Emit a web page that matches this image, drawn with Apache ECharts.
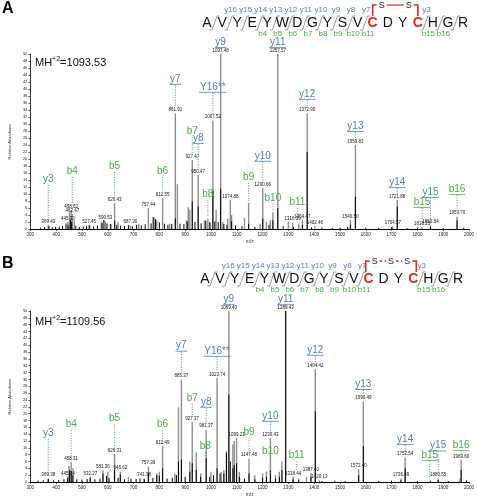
<!DOCTYPE html>
<html><head><meta charset="utf-8">
<script src="https://cdn.jsdelivr.net/npm/echarts@6/dist/echarts.min.js"></script>
<style>html,body{margin:0;padding:0;background:#fff}#c{width:477px;height:498px}</style>
</head><body><div id="c"></div>
<script>
// ---------- DATA ----------
const xMin = 300, xMax = 2000, xStep = 100;
const yMin = 0, yMax = 50, yStep = 2;
const panelLetters = ['A', 'B'];
const precursorA = '1093.53';
const precursorB = '1109.56';
const residues = ['A','V','Y','E','Y','W','D','G','Y','S','V','C','D','Y','C','H','G','R'];
const linkA = ['S', 'S'];
const linkB = ['S', 'S', 'S'];

// Panel A: main (grey) peaks [m/z, relative abundance]
const greyA = [[369.4,1.2],[445.3,2.0],[452,4.8],[458.3,5.3],[462.5,4.2],[470,2.5],[527.5,1.2],[575,1.8],[590.5,2.2],[610,1.5],[626.4,7.4],[640,2],[687.3,1.0],[720,1.5],[757.4,6.0],[780,3.2],[790,2.5],[812.6,8.9],[840,1.5],[861.9,33],[870,12.8],[905,2.5],[912,6.2],[918,5.5],[927.5,19.7],[950.5,15.4],[975,2.5],[988,3.0],[995,2],[1007.5,31],[1020,5.5],[1037.5,50],[1046,2],[1065,3],[1074.9,8.3],[1080,4],[1130,3.2],[1146,7.4],[1190,1.5],[1200.7,11.7],[1215,2],[1230,2.5],[1240,4.7],[1259,50],[1300,2],[1316.4,1.8],[1340,1.5],[1354.5,2.6],[1372.9,33],[1402.5,0.8],[1540.5,2.6],[1559.8,24],[1704.6,0.8],[1721.9,8.3],[1818.2,0.5],[1850.8,1],[1953.7,3.5]];
// Panel A: dark (black) peaks
const blackA = [[340,0.4],[355,0.5],[372,0.8],[385,0.5],[398,0.6],[412,0.7],[425,0.9],[438,1.6],[446,1.2],[455,2.6],[460,2.0],[476,0.9],[490,0.6],[505,0.7],[518,0.9],[530,1.0],[545,0.7],[560,1.0],[578,1.8],[585,2.6],[597,1.6],[612,1.4],[627,2.4],[635,1.2],[650,1.0],[665,0.9],[680,1.1],[695,0.8],[712,1.2],[730,1.0],[745,1.3],[768,1.6],[776,3.4],[785,2.8],[800,1.9],[820,1.5],[833,1.2],[848,1.4],[862,3.0],[880,1.5],[895,1.4],[908,2.2],[927.5,7.8],[938,2.0],[950.5,6.4],[962,1.6],[980,2.4],[996,1.8],[1007.5,11],[1015,2.2],[1028,2.0],[1037.5,11.5],[1050,1.4],[1062,1.2],[1080,2.2],[1095,1.0],[1120,0.8],[1146,1.5],[1170,0.6],[1200.7,3.0],[1225,1.2],[1240,2.5],[1259,6],[1280,0.8],[1320,0.6],[1354.5,1.2],[1372.9,22],[1390,0.5],[1430,0.4],[1470,0.3],[1500,0.4],[1530,0.6],[1540.5,1.2],[1559.8,9.2],[1600,0.4],[1650,0.3],[1700,0.5],[1721.9,6.4],[1760,0.3],[1800,0.4],[1850.8,0.6],[1900,0.3],[1953.7,2.5],[1980,0.4]];
// Panel A: peak m/z labels
const valMzA = [369.4,445.3,458.3,462.5,527.5,590.5,626.4,687.3,757.4,812.6,861.9,927.5,950.5,1007.5,1037.5,1074.9,1200.7,1259,1316.4,1354.5,1372.9,1402.5,1540.5,1559.8,1704.6,1721.9,1818.2,1850.8,1953.7];
const valHA  = [1.2,2.0,5.3,4.2,1.2,2.2,7.4,1.0,6.0,8.9,33,19.7,15.4,31,50,8.3,11.7,50,1.8,2.6,33,0.8,2.6,24,0.8,8.3,0.5,1.0,3.5];
const valTxtA = ['369.43','445.33','458.62','462.47','527.45','590.53','626.43','687.30','757.44','812.55','861.91','927.47','950.47','1007.52','1037.48','1074.88','1200.66','1257.57','1316.39','1354.47','1372.90','1402.46','1540.50','1559.83','1704.57','1721.88','1818.23','1850.84','1953.70'];
// Panel A: fragment ion annotations
const ionNameA = ['y3','b4','b5','b6','y7','b7','y8','b8','Y16**','y9','b9','y10','b10','y11','b11','y12','y13','y14','b15','y15','b16'];
const ionMzA   = [369.4,462.5,626.4,812.6,861.9,927.5,950.5,988,1007.5,1037.5,1146,1200.7,1240,1259,1335,1372.9,1559.8,1721.9,1818,1850.8,1953.7];
const ionBaseA = [2.5,6.5,9,10.5,35,21.5,17,3.5,32.5,52,8,13,5,52,3.5,35,26,10,1,2.5,5];
const ionLvlA  = [12.6,14.9,16.3,14.9,41.2,26.3,24.3,8.3,38.9,51.7,13.2,19.2,7.2,51.7,6.0,36.9,27.7,11.7,6.0,8.9,9.7];

// Panel B
const greyB = [[369.4,1.0],[445.1,1.5],[450,4.7],[458.3,5.8],[465,4.0],[532.3,1.5],[581.4,3.4],[600,3],[626.3,8.2],[648.6,3.0],[680,1.5],[741.4,1.0],[757.4,4.5],[790,2.5],[800,3],[812.5,10.5],[860,2.5],[874,21.8],[885.4,30],[918,6],[927.4,17.6],[943,8.6],[960,2.5],[981.4,15.3],[1000,3],[1023.7,30.4],[1040,3],[1050,3.5],[1060,9],[1069.4,50],[1085,11],[1090,12],[1099.2,12.9],[1110,3],[1147.5,6.8],[1170,2],[1200,2.5],[1215,3],[1230.4,12.9],[1250,2],[1265,3],[1275,6],[1289.4,50],[1318.4,1.5],[1340,1],[1370,1.5],[1387.4,2.6],[1404.4,33],[1420.1,0.5],[1572.4,3.7],[1590.5,23.6],[1736.5,1.0],[1752.5,7.2],[1880.6,1.0],[1965,1],[1969.6,6.5]];
const blackB = [[330,0.4],[350,0.5],[369.4,0.8],[390,0.5],[410,0.6],[430,0.8],[445,1.2],[452,3.5],[458.3,3.2],[465,2.0],[480,0.8],[500,0.7],[520,0.9],[532,1.2],[550,0.8],[570,1.0],[581.4,2.4],[595,1.8],[605,1.2],[626.3,3.5],[640,1.2],[648.6,2.2],[665,0.8],[690,1.0],[710,0.9],[725,1.0],[741.4,0.8],[757.4,2.6],[775,1.2],[790,2.0],[800,1.8],[812.5,4.0],[830,1.0],[850,1.2],[866,2.0],[874,6.0],[885.4,6.5],[900,1.5],[918,3.0],[927.4,5.5],[943,3.5],[960,1.5],[981.4,7.0],[995,1.5],[1010,2.0],[1023.7,4.0],[1035,2.5],[1050,2.5],[1060,8.5],[1069.4,25.6],[1075,6],[1085,4],[1090,5],[1099.2,5.5],[1110,1.5],[1130,1.0],[1147.5,2.5],[1170,0.8],[1200,1.2],[1215,1.5],[1230.4,3.5],[1250,1.0],[1265,1.5],[1275,3.5],[1289.4,50],[1318,0.8],[1340,0.5],[1387.4,1.5],[1404.4,20.7],[1430,0.3],[1480,0.4],[1520,0.3],[1572.4,2.0],[1590.5,10.5],[1650,0.3],[1700,0.4],[1736,0.5],[1752.5,4.0],[1800,0.3],[1850,0.4],[1880.6,0.6],[1920,0.3],[1969.6,3.5],[1990,0.5]];
const valMzB = [369.4,445.1,458.3,532.3,581.4,626.3,648.6,741.4,757.4,812.5,885.4,927.4,981.4,1023.7,1069.4,1099.2,1147.5,1230.4,1289.4,1318.4,1387.4,1404.4,1420.1,1572.4,1590.5,1736.5,1752.5,1880.6,1969.6];
const valHB  = [1.0,1.5,5.8,1.5,3.4,8.2,3.0,1.0,4.5,10.5,30,17.6,15.3,30.4,50,12.9,6.8,12.9,50,1.5,2.6,33,0.5,3.7,23.6,1.0,7.2,1.0,6.5];
const valTxtB = ['369.38','445.14','458.31','532.27','581.36','626.31','648.62','741.38','757.39','812.49','885.37','927.37','981.37','1023.74','1069.40','1099.21','1147.48','1230.43','1289.43','1318.44','1387.40','1404.42','1420.13','1572.40','1590.49','1736.49','1752.54','1880.55','1969.60'];
const ionNameB = ['y3','b4','b5','b6','y7','b7','y8','b8','Y16**','y9','b9','y10','b10','y11','b11','y12','y13','y14','b15','y15','b16'];
const ionMzB   = [369.4,458.3,626.3,812.5,885.4,927.4,981.4,978,1023.7,1069.4,1147.5,1230.4,1230.4,1289.4,1332,1404.4,1590.5,1752.5,1848,1880.6,1969.6];
const ionBaseB = [2.0,7.5,10,12.3,32,19.5,17,7.5,32.5,52,8.5,14.5,2,52,3,35,25.5,9,0.8,2.2,8];
const ionLvlB  = [12.5,15.1,16.8,15.1,38.1,22.8,21.7,8.6,36.6,51.7,12.9,17.6,7.2,51.7,6.0,36.9,26.9,10.8,6.1,8.9,9.1];

// ---------- STYLE ----------
const BLUE = '#4f7fc0', GREEN = '#46b046', RED = '#e02a1e', GREY = '#8e8e8e';
const FONT = '"Liberation Sans", Arial, sans-serif';
const grids = [{left:17, top:54, width:452, height:175}, {left:17, top:311, width:452, height:176}];

function stickRender(color, w){
  return function(params, api){
    const p0 = api.coord([api.value(0), 0]);
    const p1 = api.coord([api.value(0), api.value(1)]);
    return {type:'line', shape:{x1:p0[0], y1:p0[1], x2:p1[0], y2:p1[1]}, style:{stroke:color, lineWidth:w}};
  };
}
function valRender(txts){
  return function(params, api){
    const p = api.coord([api.value(0), api.value(1)]);
    return {type:'text', style:{text:txts[params.dataIndex], x:p[0], y:p[1]-1, fill:'#111', font:'4.5px ' + FONT, align:'center', verticalAlign:'bottom'}};
  };
}
function ionRender(names, bases){
  return function(params, api){
    const i = params.dataIndex, name = names[i];
    const isB = name[0] === 'b';
    const col = isB ? GREEN : BLUE;
    const under = (!isB && name !== 'y3') || name === 'b15' || name === 'b16';
    const mz = api.value(0);
    const pb = api.coord([mz, bases[i]]);
    const pt = api.coord([mz, api.value(1)]);
    const kids = [];
    if (pb[1] > pt[1] + 1) kids.push({type:'line', shape:{x1:pt[0], y1:pt[1], x2:pb[0], y2:pb[1]}, style:{stroke:col, lineWidth:1, lineDash:[1,1.5]}});
    kids.push({type:'text', style:{text:name, x:pt[0], y:pt[1]-1, fill:col, font:'10px ' + FONT, align:'center', verticalAlign:'bottom'}});
    if (under) {
      const w = name.length * 5.3 + 1;
      kids.push({type:'line', shape:{x1:pt[0]-w/2, y1:pt[1]-0.5, x2:pt[0]+w/2, y2:pt[1]-0.5}, style:{stroke:col, lineWidth:0.8}});
    }
    return {type:'group', children:kids};
  };
}

const panels = [
  {grey:greyA, black:blackA, vm:valMzA, vh:valHA, vt:valTxtA, in:ionNameA, im:ionMzA, ib:ionBaseA, il:ionLvlA},
  {grey:greyB, black:blackB, vm:valMzB, vh:valHB, vt:valTxtB, in:ionNameB, im:ionMzB, ib:ionBaseB, il:ionLvlB}
];

const xAxes = [], yAxes = [], series = [];
panels.forEach((P, k) => {
  xAxes.push({type:'value', gridIndex:k, min:xMin, max:xMax, interval:xStep,
    name:'m/z', nameLocation:'middle', nameGap:10, nameTextStyle:{fontSize:5, color:'#333', fontFamily:FONT},
    axisLine:{lineStyle:{color:'#000', width:1}}, axisTick:{length:2, lineStyle:{color:'#000', width:0.6}},
    minorTick:{show:true, splitNumber:5, length:1.2, lineStyle:{color:'#000', width:0.5}},
    axisLabel:{fontSize:4.5, color:'#222', margin:3, fontFamily:FONT, formatter:(v)=>String(v)}, splitLine:{show:false}});
  yAxes.push({type:'value', gridIndex:k, min:yMin, max:yMax, interval:yStep,
    name:'Relative Abundance', nameLocation:'middle', nameRotate:90, nameGap:11, nameTextStyle:{fontSize:4, color:'#333', fontFamily:FONT},
    axisLine:{show:true, lineStyle:{color:'#000', width:0.8}}, axisTick:{show:true, length:2, lineStyle:{color:'#000', width:0.6}},
    axisLabel:{fontSize:4, color:'#222', margin:3, fontFamily:FONT, formatter:(v)=>String(v)}, splitLine:{show:false}});
  series.push({type:'custom', xAxisIndex:k, yAxisIndex:k, renderItem:stickRender(GREY, 1.4), data:P.grey, encode:{x:0, y:1}, silent:true});
  series.push({type:'custom', xAxisIndex:k, yAxisIndex:k, renderItem:stickRender('#000', 1), data:P.black, encode:{x:0, y:1}, silent:true});
  series.push({type:'custom', xAxisIndex:k, yAxisIndex:k, renderItem:valRender(P.vt), data:P.vm.map((m,i)=>[m, P.vh[i]]), encode:{x:0, y:1}, silent:true, clip:false});
  series.push({type:'custom', xAxisIndex:k, yAxisIndex:k, renderItem:ionRender(P.in, P.ib), data:P.im.map((m,i)=>[m, P.il[i]]), encode:{x:0, y:1}, silent:true, clip:false});
});

// ---------- decorations (text) ----------
function seqGraphics(x0, step, yc, link, linkSpan){
  const g = [];
  const xs = residues.map((r,i)=> x0 + i*step);
  const loopStart = 11, loopEnd = 14;
  residues.forEach((r,i)=>{
    const red = (i === loopStart || i === loopEnd);
    g.push({type:'text', x:xs[i], y:yc, style:{text:r, fill: red ? RED : '#111', font:(red?'bold ':'') + '14px ' + FONT, align:'center', verticalAlign:'middle'}});
    if (i < residues.length - 1 && !(i >= loopStart && i < loopEnd)) {
      const sx = (xs[i] + xs[i+1]) / 2;
      g.push({type:'polyline', shape:{points:[[sx-5, yc+7],[sx-2.5, yc+7],[sx+2.5, yc-7],[sx+5, yc-7]]}, style:{stroke:'#999', lineWidth:1, fill:null}});
      const yi = residues.length - 1 - i;
      const bi = i + 1;
      if ((yi >= 7 && yi <= 16) || yi === 3) g.push({type:'text', x:sx+1, y:yc-13, style:{text:'y' + yi, fill:BLUE, font:'8px ' + FONT, align:'center', verticalAlign:'middle'}});
      if ((bi >= 4 && bi <= 11) || bi === 15 || bi === 16) g.push({type:'text', x:sx+3, y:yc+11, style:{text:'b' + bi, fill:GREEN, font:'8px ' + FONT, align:'center', verticalAlign:'middle'}});
    }
  });
  // disulfide bracket
  const xl = xs[loopStart] + linkSpan[0], xr = xs[loopEnd] + linkSpan[1];
  const top = yc - 18, bot = yc - 7;
  g.push({type:'polyline', shape:{points:[[xl, bot],[xl, top],[xl+4, top]]}, style:{stroke:RED, lineWidth:1.6, fill:null}});
  g.push({type:'polyline', shape:{points:[[xr-4, top],[xr, top],[xr, bot]]}, style:{stroke:RED, lineWidth:1.6, fill:null}});
  const n = link.length;
  const sxs = link.map((s,j)=> xl + 9 + j * ((xr - xl - 18) / (n - 1)));
  link.forEach((s,j)=>{
    g.push({type:'text', x:sxs[j], y:top+1, style:{text:s, fill:'#222', font:'9px ' + FONT, align:'center', verticalAlign:'middle'}});
    if (j < n - 1) {
      const a = sxs[j] + 5, b = sxs[j+1] - 5;
      g.push({type:'line', shape:{x1:a, y1:top, x2:b, y2:top}, style:{stroke:RED, lineWidth: n > 2 ? 1.4 : 1.2, lineDash: n > 2 ? [2.5,2.5] : null}});
    }
  });
  return g;
}

const graphic = [
  {type:'text', left:2, top:1, style:{text:panelLetters[0], font:'bold 16px ' + FONT, fill:'#000'}},
  {type:'text', left:2, top:256, style:{text:panelLetters[1], font:'bold 16px ' + FONT, fill:'#000'}},
  {type:'text', left:35, top:56, style:{text:'{a|MH}{s|+2}{a|=' + precursorA + '}', rich:{a:{fontSize:11, fontFamily:FONT, fill:'#111'}, s:{fontSize:7, fontFamily:FONT, fill:'#111', padding:[0,0,6,0]}}}},
  {type:'text', left:35, top:315, style:{text:'{a|MH}{s|+2}{a|=' + precursorB + '}', rich:{a:{fontSize:11, fontFamily:FONT, fill:'#111'}, s:{fontSize:7, fontFamily:FONT, fill:'#111', padding:[0,0,6,0]}}}}
].concat(seqGraphics(207, 15.06, 23, linkA, [0, 0])).concat(seqGraphics(205, 14.88, 279, linkB, [-3, 3]));

const chart = echarts.init(document.getElementById('c'));
chart.setOption({
  animation:false,
  backgroundColor:'#fff',
  grid:grids,
  xAxis:xAxes,
  yAxis:yAxes,
  series:series,
  graphic:graphic
});
</script></body></html>
